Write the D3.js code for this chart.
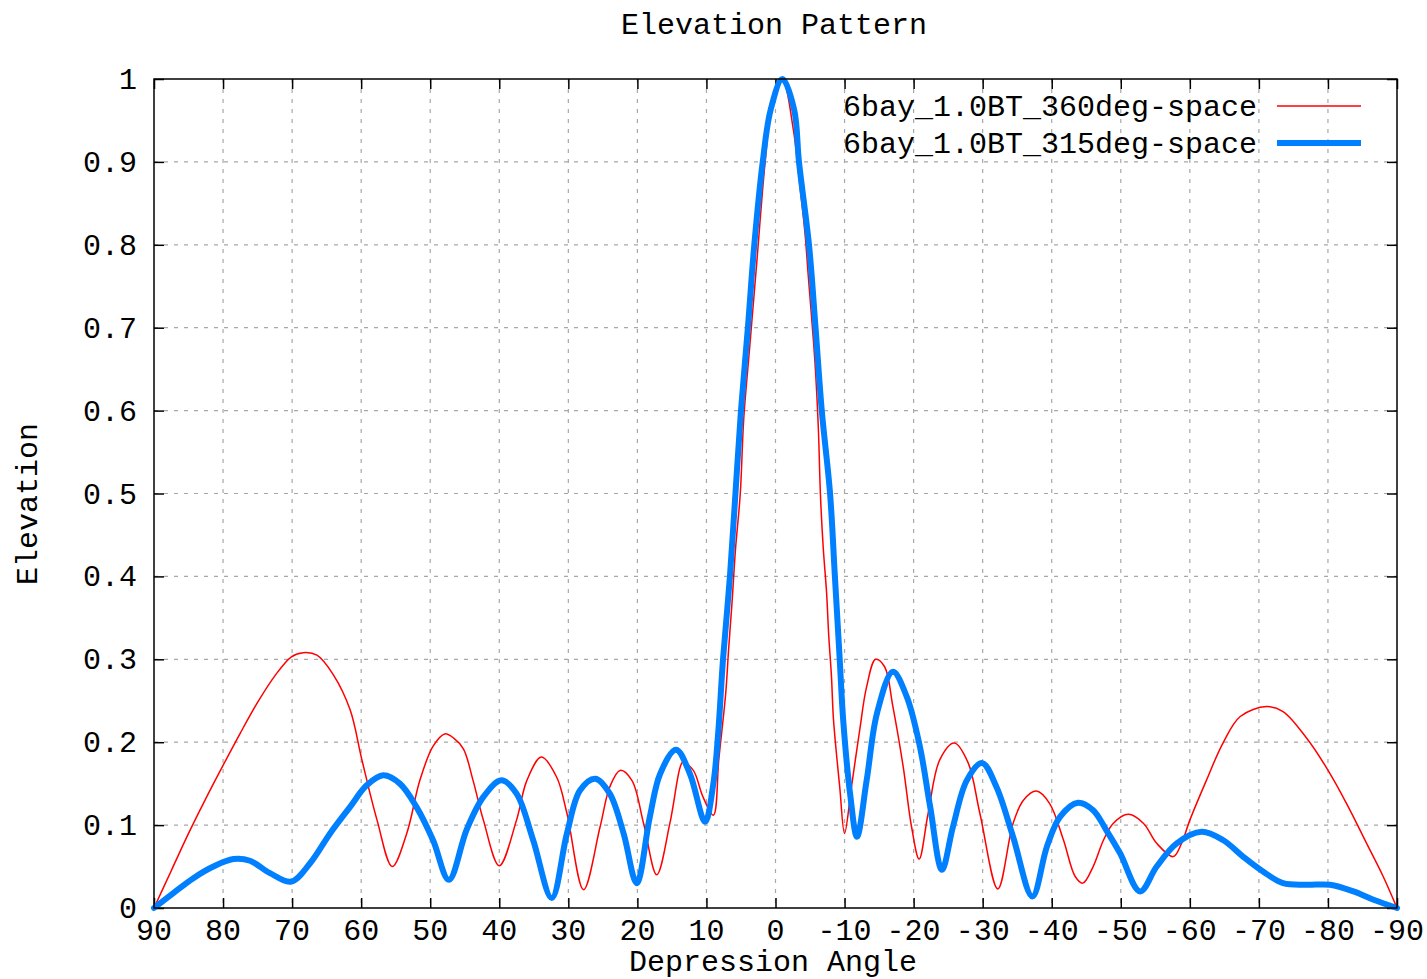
<!DOCTYPE html>
<html>
<head>
<meta charset="utf-8">
<script src="https://cdn.jsdelivr.net/npm/d3@7"></script>
<style>
  html, body { margin: 0; padding: 0; background: #fff; }
  svg { display: block; }
  text { font-family: "Liberation Mono", "DejaVu Sans Mono", monospace; fill: #000; }
</style>
</head>
<body>
<svg id="chart" width="1427" height="979"></svg>
<script>
// ---- data ----
const chartTitle = "Elevation Pattern";
const xLabel = "Depression Angle";
const yLabel = "Elevation";
const seriesNames = ["6bay_1.0BT_360deg-space", "6bay_1.0BT_315deg-space"];

const xTicks = [90, 80, 70, 60, 50, 40, 30, 20, 10, 0, -10, -20, -30, -40, -50, -60, -70, -80, -90];
const yTicks = [0, 0.1, 0.2, 0.3, 0.4, 0.5, 0.6, 0.7, 0.8, 0.9, 1];

const redAngles = [90, 87.5, 85, 82.5, 80, 77.5, 75, 72.5, 70.1, 68.4, 66.4, 64.0, 61.6, 59.9, 57.7, 55.5,
  53.4, 51.5, 49.6, 47.9, 46.6, 45.2, 43.8, 42.3, 40.0, 37.5, 36.0, 33.9, 31.7, 30.2, 27.8, 25.4, 24.0, 22.5,
  20.8, 19.1, 17.2, 15.3, 13.8, 13.4, 11.9, 10.5, 9.0, 8.2, 7.2, 6.8, 6.3, 5.8, 5.1, 4.6, 3.7, 2.7, 1.5, 0.5,
  -1.0, -2.6, -3.55, -4.27, -4.75, -5.7, -6.2, -6.5, -6.9, -7.4, -7.7, -8.1, -8.4, -9.3, -10.0, -11.0, -12.2,
  -13.2, -14.5, -15.8, -17.0, -18.5, -19.7, -20.8, -22.1, -23.8, -25.9, -27.9, -29.6, -32.2, -34.4, -35.9,
  -37.8, -39.7, -41.7, -43.4, -44.5, -46.0, -47.5, -48.9, -51.1, -53.3, -55.2, -57.6, -58.8, -60.0, -62.4,
  -64.8, -67.3, -71.1, -73.5, -76.9, -79.8, -82.7, -85.6, -88.0, -90];
const redValues = [0, 0.045, 0.090, 0.132, 0.172, 0.211, 0.248, 0.280, 0.303, 0.308, 0.305, 0.281, 0.239, 0.179, 0.106, 0.050,
  0.090, 0.154, 0.195, 0.210, 0.205, 0.192, 0.154, 0.106, 0.051, 0.106, 0.154, 0.182, 0.158, 0.114, 0.022, 0.098, 0.146, 0.166,
  0.154, 0.102, 0.040, 0.102, 0.170, 0.176, 0.166, 0.134, 0.112, 0.180, 0.260, 0.311, 0.368, 0.432, 0.500, 0.590, 0.680, 0.780, 0.900, 0.970,
  1.000, 0.938, 0.870, 0.814, 0.762, 0.660, 0.580, 0.500, 0.436, 0.380, 0.330, 0.280, 0.227, 0.146, 0.090, 0.146, 0.215,
  0.267, 0.300, 0.291, 0.243, 0.170, 0.098, 0.059, 0.114, 0.179, 0.199, 0.175, 0.114, 0.023, 0.102, 0.130,
  0.141, 0.126, 0.082, 0.038, 0.030, 0.050, 0.082, 0.102, 0.113, 0.102, 0.078, 0.062, 0.078, 0.106, 0.154,
  0.199, 0.231, 0.243, 0.237, 0.205, 0.169, 0.126, 0.078, 0.038, 0];

const blueAngles = [90, 87.2, 84.3, 81.4, 78.5, 76.1, 73.2, 70.1, 67.4, 64.5, 61.6, 59.2, 56.8, 54.4, 52.0, 49.6, 47.3,
  44.7, 42.3, 39.7, 37.5, 35.1, 32.4, 30.2, 28.3, 26.1, 24.0, 22.0, 20.1, 18.2, 16.7, 14.4, 12.4, 10.2, 9.0, 8.3,
  7.6, 6.6, 5.8, 5.0, 4.0, 3.07, 1.85, 0.7, -1.0, -2.7, -3.4, -4.85, -5.8, -6.7, -7.9, -8.6, -9.3, -9.8, -10.8,
  -11.8, -13.2, -14.7, -17.0, -19.0, -20.9, -22.4, -24.1, -25.7, -27.7, -29.9, -32.0, -34.4, -37.2, -39.3, -41.2,
  -43.8, -46.0, -47.9, -49.9, -52.8, -55.2, -58.1, -61.7, -64.8, -67.7, -70.6, -73.5, -76.9, -80.3, -83.7, -86.6, -90];
const blueValues = [0, 0.018, 0.036, 0.050, 0.059, 0.057, 0.042, 0.032, 0.054, 0.090, 0.122, 0.148, 0.160, 0.150, 0.122, 0.082, 0.034,
  0.095, 0.134, 0.154, 0.138, 0.082, 0.012, 0.090, 0.142, 0.156, 0.138, 0.090, 0.030, 0.110, 0.162, 0.191, 0.162, 0.104, 0.150, 0.211,
  0.300, 0.400, 0.500, 0.600, 0.700, 0.800, 0.900, 0.963, 1.000, 0.963, 0.900, 0.800, 0.700, 0.600, 0.500, 0.400, 0.300, 0.227, 0.138,
  0.086, 0.154, 0.235, 0.285, 0.255, 0.195, 0.122, 0.046, 0.098, 0.154, 0.175, 0.146, 0.086, 0.014, 0.074, 0.110,
  0.127, 0.118, 0.094, 0.066, 0.020, 0.050, 0.078, 0.092, 0.082, 0.062, 0.044, 0.030, 0.028, 0.028, 0.020, 0.010, 0];

// ---- layout ----
const svg = d3.select("#chart");
const L = 154, R = 1397, T = 79, B = 908;
const x = d3.scaleLinear().domain([90, -90]).range([L, R]);
const y = d3.scaleLinear().domain([0, 1]).range([B, T]);
const FS = 30;

// grid
const grid = svg.append("g").attr("stroke", "#a8a8a8").attr("stroke-width", 1.2).attr("stroke-dasharray", "4,6");
grid.selectAll("line.v").data(xTicks.slice(1, -1)).enter().append("line")
  .attr("x1", d => x(d)).attr("x2", d => x(d)).attr("y1", T).attr("y2", B);
grid.selectAll("line.h").data(yTicks.slice(1, -1)).enter().append("line")
  .attr("x1", L).attr("x2", R).attr("y1", d => y(d)).attr("y2", d => y(d));

// axes with inward ticks (mirrored)
const fmtY = d => d3.format("~g")(d);
function styleAxis(g) {
  g.select(".domain").remove();
  g.selectAll(".tick line").attr("stroke", "#000").attr("stroke-width", 1.5);
  g.selectAll(".tick text").remove();
}
svg.append("g").attr("transform", `translate(0,${B})`)
  .call(d3.axisBottom(x).tickValues(xTicks).tickSizeInner(-10).tickSizeOuter(0)).call(styleAxis);
svg.append("g").attr("transform", `translate(0,${T})`)
  .call(d3.axisTop(x).tickValues(xTicks).tickSizeInner(-10).tickSizeOuter(0)).call(styleAxis);
svg.append("g").attr("transform", `translate(${L},0)`)
  .call(d3.axisLeft(y).tickValues(yTicks).tickSizeInner(-10).tickSizeOuter(0)).call(styleAxis);
svg.append("g").attr("transform", `translate(${R},0)`)
  .call(d3.axisRight(y).tickValues(yTicks).tickSizeInner(-10).tickSizeOuter(0)).call(styleAxis);

// tick labels
svg.append("g").selectAll("text").data(xTicks).enter().append("text")
  .attr("x", d => x(d)).attr("y", 940).attr("text-anchor", "middle")
  .style("font-size", FS + "px").text(d => d);
svg.append("g").selectAll("text").data(yTicks).enter().append("text")
  .attr("x", 137).attr("y", d => y(d) + 10).attr("text-anchor", "end")
  .style("font-size", FS + "px").text(fmtY);

// lines
const line = d3.line().x(d => x(d[0])).y(d => y(d[1])).curve(d3.curveCatmullRom.alpha(0.5));
const redData = redAngles.map((a, i) => [a, redValues[i]]);
const blueData = blueAngles.map((a, i) => [a, blueValues[i]]);
const plot = svg.append("g");
plot.append("path").datum(redData).attr("d", line).attr("fill", "none")
  .attr("stroke", "#ff0000").attr("stroke-width", 1.5).attr("stroke-linejoin", "round");
plot.append("path").datum(blueData).attr("d", line).attr("fill", "none")
  .attr("stroke", "#0080ff").attr("stroke-width", 6).attr("stroke-linejoin", "round").attr("stroke-linecap", "round");

// frame
svg.append("rect").attr("x", L).attr("y", T).attr("width", R - L).attr("height", B - T)
  .attr("fill", "none").attr("stroke", "#000").attr("stroke-width", 1.5);

// legend
const legColors = ["#ff0000", "#0080ff"];
const legWidths = [1.5, 6];
const legY = [106, 143];
seriesNames.forEach((n, i) => {
  svg.append("text").attr("x", 1257).attr("y", legY[i] + 10).attr("text-anchor", "end")
    .style("font-size", FS + "px").text(n);
  svg.append("line").attr("x1", 1277).attr("x2", 1361).attr("y1", legY[i]).attr("y2", legY[i])
    .attr("stroke", legColors[i]).attr("stroke-width", legWidths[i]);
});

// titles
svg.append("text").attr("x", 774).attr("y", 34).attr("text-anchor", "middle")
  .style("font-size", FS + "px").text(chartTitle);
svg.append("text").attr("x", 773).attr("y", 971).attr("text-anchor", "middle")
  .style("font-size", FS + "px").text(xLabel);
svg.append("text").attr("transform", "translate(37,504) rotate(-90)").attr("text-anchor", "middle")
  .style("font-size", FS + "px").text(yLabel);
</script>
</body>
</html>
